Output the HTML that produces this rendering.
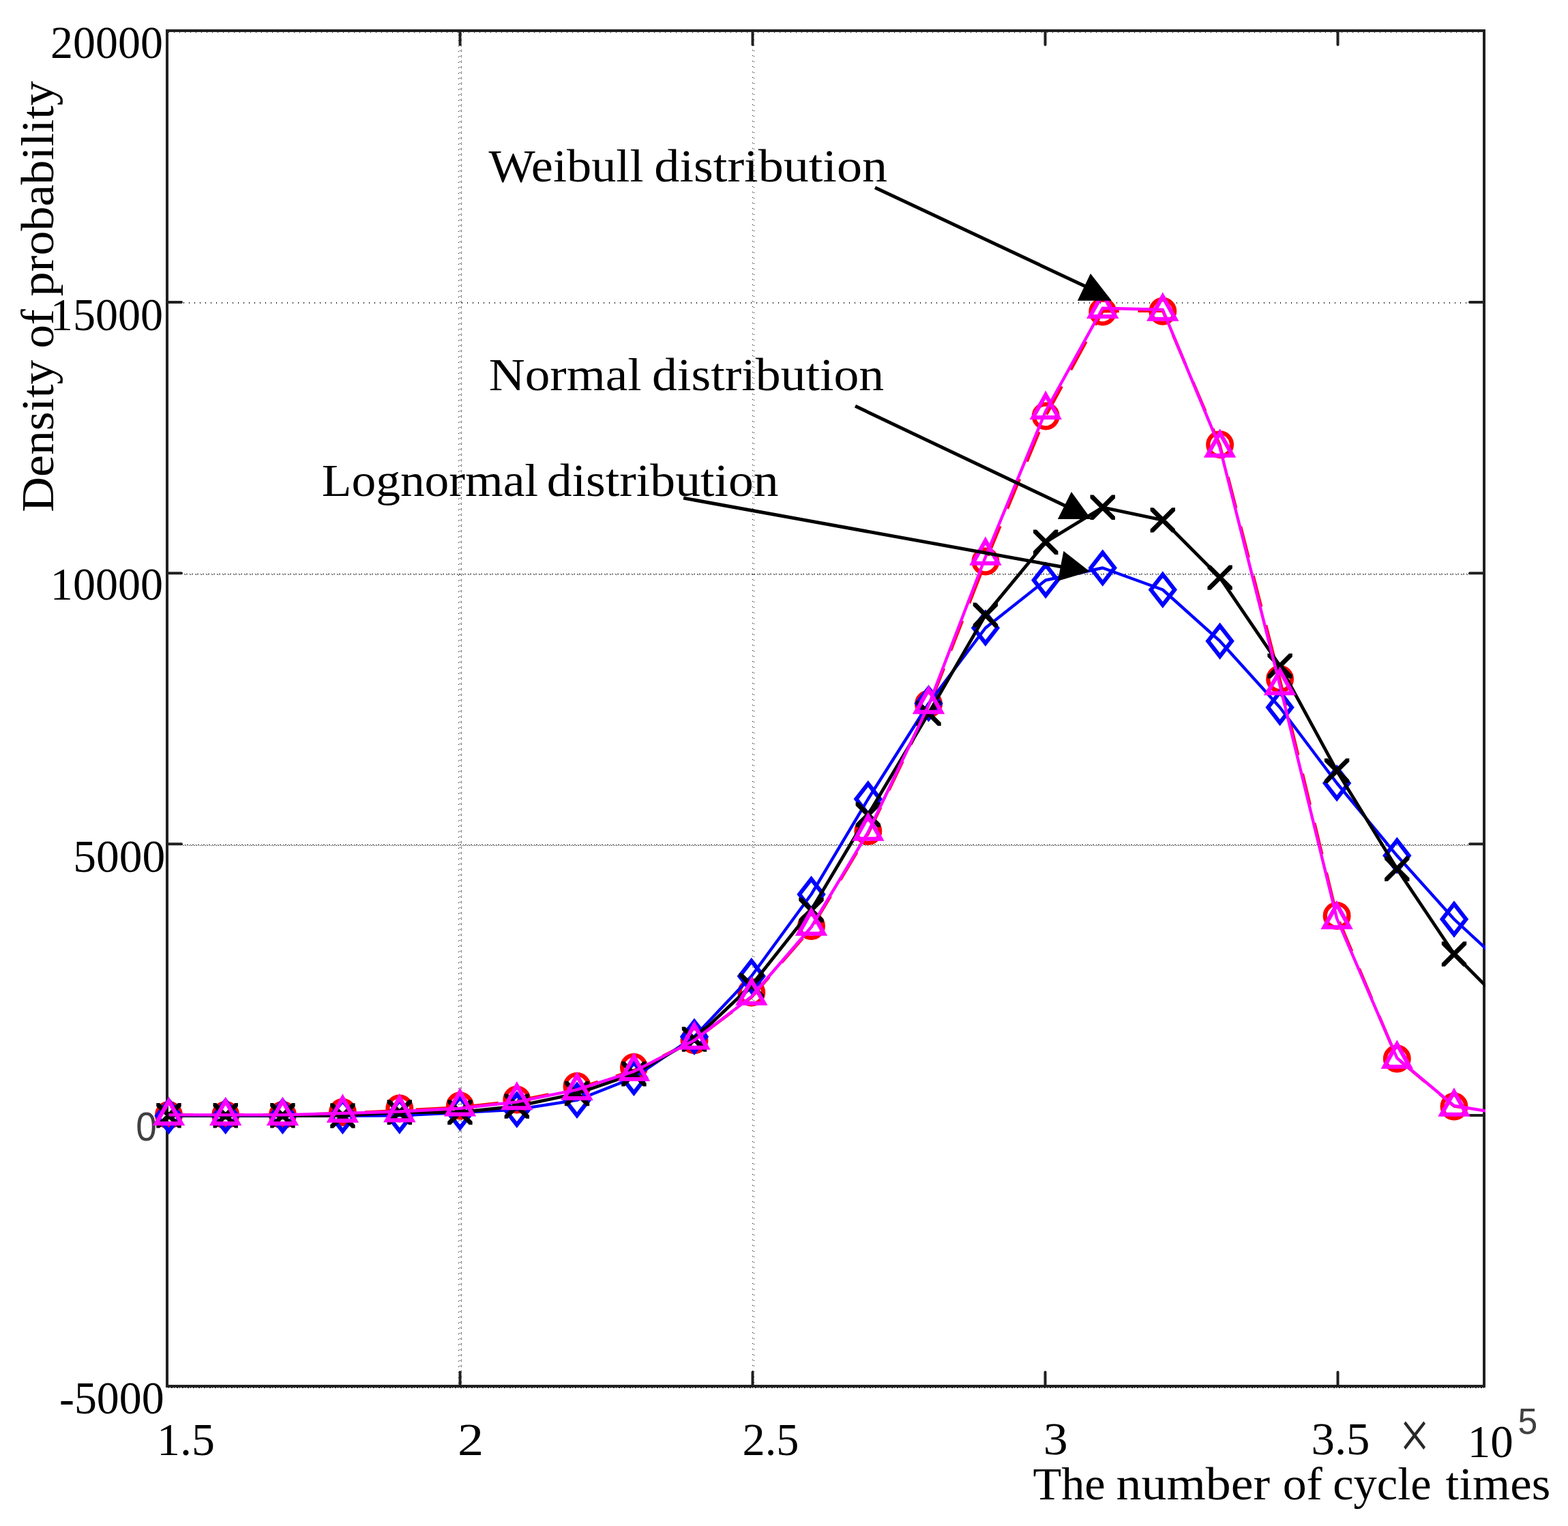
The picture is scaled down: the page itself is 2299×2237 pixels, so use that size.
<!DOCTYPE html>
<html lang="en"><head><meta charset="utf-8"><title>Density of probability</title>
<style>html,body{margin:0;padding:0;background:#fff}svg{display:block}text{font-family:"Liberation Serif",serif;fill:#000}.sans{font-family:"Liberation Sans",sans-serif;fill:#404040}</style></head><body>
<svg width="2299" height="2237" viewBox="0 0 2299 2237">
<rect x="0" y="0" width="2299" height="2237" fill="#fff"/>
<defs>
<pattern id="v2" x="672" y="817" width="8" height="8" patternUnits="userSpaceOnUse"><g fill="#111"><rect x="0" y="2" width="1" height="1"/><rect x="2" y="1" width="1" height="1"/><rect x="4" y="0" width="1" height="1"/><rect x="4" y="2" width="1" height="1"/></g></pattern>
<pattern id="v25" x="1103" y="1217" width="8" height="8" patternUnits="userSpaceOnUse"><g fill="#111"><rect x="0" y="0" width="1" height="1"/><rect x="2" y="1" width="1" height="1"/></g></pattern>
<pattern id="h15" x="269" y="443" width="8" height="8" patternUnits="userSpaceOnUse"><g fill="#111"><rect x="0" y="0" width="1" height="2"/></g></pattern>
<pattern id="h10" x="641" y="841" width="8" height="8" patternUnits="userSpaceOnUse"><g fill="#111"><rect x="0" y="0" width="2" height="1"/><rect x="5" y="0" width="1" height="1"/><rect x="6" y="1" width="1" height="1"/></g></pattern>
<pattern id="h5" x="1501" y="1238" width="8" height="8" patternUnits="userSpaceOnUse"><g fill="#111"><rect x="0" y="1" width="1" height="1"/><rect x="2" y="0" width="1" height="1"/><rect x="3" y="1" width="1" height="1"/><rect x="5" y="0" width="2" height="1"/></g></pattern>
<pattern id="hb" x="2131" y="2034" width="8" height="8" patternUnits="userSpaceOnUse"><g fill="#111"><rect x="0" y="0" width="2" height="1"/><rect x="4" y="0" width="1" height="1"/></g></pattern>
<pattern id="ht" x="255" y="47" width="8" height="8" patternUnits="userSpaceOnUse"><g fill="#111"><rect x="0" y="0" width="1" height="1"/></g></pattern>
<clipPath id="cp"><rect x="205" y="43" width="1973" height="1991"/></clipPath>
</defs>
<g>
<rect x="672" y="47" width="5" height="1983" fill="url(#v2)"/>
<rect x="1103" y="47" width="3" height="1983" fill="url(#v25)"/>
<rect x="267" y="443" width="1887" height="2" fill="url(#h15)"/>
<rect x="267" y="841" width="1887" height="2" fill="url(#h10)"/>
<rect x="267" y="1238" width="1887" height="2" fill="url(#h5)"/>
<rect x="247" y="2034" width="1929" height="1" fill="url(#hb)"/>
<rect x="247" y="47" width="1927" height="1" fill="url(#ht)"/>
</g>
<g stroke="#202020" stroke-width="4" fill="none">
<rect x="245" y="45" width="1931" height="1987"/>
<path d="M674.5 2032V2011.5M674.5 45V65.5M1103.5 2032V2011.5M1103.5 45V65.5M1532.5 2032V2011.5M1532.5 45V65.5M1961.5 2032V2011.5M1961.5 45V65.5M245 443H266M2176 443H2155M245 840.2H266M2176 840.2H2155M245 1237.3H266M2176 1237.3H2155M245 1635H266M2176 1635H2155" stroke-linecap="round" />
</g>
<text x="74.09" y="84.6" font-size="68" textLength="164.92" lengthAdjust="spacingAndGlyphs">20000</text>
<text x="73.87" y="483.5" font-size="68" textLength="165.14" lengthAdjust="spacingAndGlyphs">15000</text>
<text x="73.87" y="878.9" font-size="68" textLength="165.14" lengthAdjust="spacingAndGlyphs">10000</text>
<text x="107.13" y="1278" font-size="68" textLength="135.05" lengthAdjust="spacingAndGlyphs">5000</text>
<text class="sans" x="199.27" y="1672" font-size="60" textLength="30.61" lengthAdjust="spacingAndGlyphs">0</text>
<text x="86.99" y="2072" font-size="68" textLength="153.67" lengthAdjust="spacingAndGlyphs">-5000</text>
<text x="230.11" y="2132.5" font-size="68" textLength="84.89" lengthAdjust="spacingAndGlyphs">1.5</text>
<text x="670.93" y="2132.5" font-size="68" textLength="38.15" lengthAdjust="spacingAndGlyphs">2</text>
<text x="1088.58" y="2132.5" font-size="68" textLength="82.85" lengthAdjust="spacingAndGlyphs">2.5</text>
<text x="1529.83" y="2131.5" font-size="68" textLength="35.94" lengthAdjust="spacingAndGlyphs">3</text>
<text x="1922.46" y="2131.5" font-size="68" textLength="86.08" lengthAdjust="spacingAndGlyphs">3.5</text>
<text style="fill:#282828;" transform="translate(2051.99 2138.09) scale(1.1179 1.4429)" font-size="70">×</text>
<text x="2151.78" y="2136" font-size="68" textLength="67.08" lengthAdjust="spacingAndGlyphs">10</text>
<text class="sans" transform="translate(2225.41 2101.7) scale(0.9960 1.0167)" font-size="52">5</text>
<text font-size="67"><tspan x="1514.48" y="2198.2" textLength="106.13" lengthAdjust="spacingAndGlyphs">The</tspan> <tspan x="1636.6" y="2198.2" textLength="225.55" lengthAdjust="spacingAndGlyphs">number</tspan> <tspan x="1880.68" y="2198.2" textLength="58.13" lengthAdjust="spacingAndGlyphs">of</tspan> <tspan x="1954.24" y="2198.2" textLength="144.34" lengthAdjust="spacingAndGlyphs">cycle</tspan> <tspan x="2119.64" y="2198.2" textLength="153.65" lengthAdjust="spacingAndGlyphs">times</tspan></text>
<text font-size="67"><tspan x="716.4" y="265.7" textLength="227.18" lengthAdjust="spacingAndGlyphs">Weibull</tspan> <tspan x="959.39" y="265.7" textLength="341.69" lengthAdjust="spacingAndGlyphs">distribution</tspan></text>
<text font-size="67"><tspan x="716.81" y="571.8" textLength="223.71" lengthAdjust="spacingAndGlyphs">Normal</tspan> <tspan x="956.1" y="571.8" textLength="340.17" lengthAdjust="spacingAndGlyphs">distribution</tspan></text>
<text font-size="67"><tspan x="471.87" y="727.3" textLength="317.37" lengthAdjust="spacingAndGlyphs">Lognormal</tspan> <tspan x="801.8" y="727.3" textLength="339.87" lengthAdjust="spacingAndGlyphs">distribution</tspan></text>
<text transform="translate(77.7 0) rotate(-90)" font-size="67"><tspan x="-750.74" y="0" textLength="223.22" lengthAdjust="spacingAndGlyphs">Density</tspan> <tspan x="-510.58" y="0" textLength="57.39" lengthAdjust="spacingAndGlyphs">of</tspan> <tspan x="-434.47" y="0" textLength="315.68" lengthAdjust="spacingAndGlyphs">probability</tspan></text>
<g clip-path="url(#cp)" fill="none" stroke-linejoin="round">
<polyline points="247.5,1634.4 330.7,1634.4 414.4,1634.4 502.4,1632 585.8,1628 674.4,1623.3 757.8,1613.9 846,1595.8 929.4,1569.1 1018,1525 1101.8,1462 1189.5,1361 1272.8,1222 1361.5,1037 1444.9,823.5 1533.2,609.7 1616.7,456.3 1704.8,455.5 1788.6,652.7 1876.6,996.6 1960.1,1342.5 2048.3,1551.5 2132,1621.5 2219,1635" stroke="#f00" stroke-width="4.4" stroke-dasharray="47 27.7" stroke-dashoffset="11.22"/>
<g stroke="#f00" stroke-width="6.3">
<circle cx="247.5" cy="1634.5" r="17.3"/>
<circle cx="330.7" cy="1634.5" r="17.3"/>
<circle cx="414.4" cy="1634.5" r="17.3"/>
<circle cx="502.4" cy="1630.5" r="17.3"/>
<circle cx="585.8" cy="1625" r="17.3"/>
<circle cx="674.4" cy="1621" r="17.3"/>
<circle cx="757.8" cy="1612" r="17.3"/>
<circle cx="846" cy="1592.5" r="17.3"/>
<circle cx="929.4" cy="1564.5" r="17.3"/>
<circle cx="1018" cy="1524.7" r="17.3"/>
<circle cx="1101.8" cy="1455" r="17.3"/>
<circle cx="1189.5" cy="1357.5" r="17.3"/>
<circle cx="1272.8" cy="1218.5" r="17.3"/>
<circle cx="1361.5" cy="1032" r="17.3"/>
<circle cx="1444.9" cy="823" r="17.3"/>
<circle cx="1533.2" cy="610" r="17.3"/>
<circle cx="1616.7" cy="457" r="17.3"/>
<circle cx="1704.8" cy="456.3" r="17.3"/>
<circle cx="1788.6" cy="651.7" r="17.3"/>
<circle cx="1876.6" cy="995.5" r="17.3"/>
<circle cx="1960.1" cy="1342.5" r="17.3"/>
<circle cx="2048.3" cy="1552" r="17.3"/>
<circle cx="2132" cy="1622" r="17.3"/>
<circle cx="2219" cy="1635" r="17.3"/>
</g>
<polyline points="247.5,1635.7 330.7,1635.7 414.4,1635.7 502.4,1635.8 585.8,1635.4 674.4,1631 757.8,1626.5 846,1612.7 929.4,1579.7 1018,1519.7 1101.8,1431 1189.5,1311 1272.8,1171.3 1361.5,1031.3 1444.9,920.5 1533.2,850.5 1616.7,832.5 1704.8,864.5 1788.6,939.7 1876.6,1037 1960.1,1148 2048.3,1254.3 2132,1347.5 2219,1428" stroke="#00f" stroke-width="4.4"/>
<path d="M247.5 1613.3L264.9 1635.7L247.5 1658.1L230.1 1635.7ZM330.7 1613.3L348.1 1635.7L330.7 1658.1L313.3 1635.7ZM414.4 1613.3L431.8 1635.7L414.4 1658.1L397 1635.7ZM502.4 1613.4L519.8 1635.8L502.4 1658.2L485 1635.8ZM585.8 1613L603.2 1635.4L585.8 1657.8L568.4 1635.4ZM674.4 1608.6L691.8 1631L674.4 1653.4L657 1631ZM757.8 1604.1L775.2 1626.5L757.8 1648.9L740.4 1626.5ZM846 1590.3L863.4 1612.7L846 1635.1L828.6 1612.7ZM929.4 1557.3L946.8 1579.7L929.4 1602.1L912 1579.7ZM1018 1497.3L1035.4 1519.7L1018 1542.1L1000.6 1519.7ZM1101.8 1408.6L1119.2 1431L1101.8 1453.4L1084.4 1431ZM1189.5 1288.6L1206.9 1311L1189.5 1333.4L1172.1 1311ZM1272.8 1148.9L1290.2 1171.3L1272.8 1193.7L1255.4 1171.3ZM1361.5 1008.9L1378.9 1031.3L1361.5 1053.7L1344.1 1031.3ZM1444.9 898.1L1462.3 920.5L1444.9 942.9L1427.5 920.5ZM1533.2 828.1L1550.6 850.5L1533.2 872.9L1515.8 850.5ZM1616.7 810.1L1634.1 832.5L1616.7 854.9L1599.3 832.5ZM1704.8 842.1L1722.2 864.5L1704.8 886.9L1687.4 864.5ZM1788.6 917.3L1806 939.7L1788.6 962.1L1771.2 939.7ZM1876.6 1014.6L1894 1037L1876.6 1059.4L1859.2 1037ZM1960.1 1125.6L1977.5 1148L1960.1 1170.4L1942.7 1148ZM2048.3 1231.9L2065.7 1254.3L2048.3 1276.7L2030.9 1254.3ZM2132 1325.1L2149.4 1347.5L2132 1369.9L2114.6 1347.5ZM2219 1405.6L2236.4 1428L2219 1450.4L2201.6 1428Z" stroke="#00f" stroke-width="6" stroke-linejoin="miter"/>
<polyline points="247.5,1635.3 330.7,1635.3 414.4,1635.3 502.4,1635.5 585.8,1630.5 674.4,1630.5 757.8,1621.6 846,1603 929.4,1574.3 1018,1523.5 1101.8,1444.6 1189.5,1334 1272.8,1194.3 1361.5,1045.8 1444.9,901.6 1533.2,794.7 1616.7,743.8 1704.8,762.4 1788.6,846.6 1876.6,976.2 1960.1,1129.9 2048.3,1273.6 2132,1398.5 2219,1486.3" stroke="#000" stroke-width="4.8"/>
<path d="M229.3 1617.1L234.1 1617.1L265.7 1648.7L265.7 1653.5L260.9 1653.5L229.3 1621.9ZM229.3 1648.7L260.9 1617.1L265.7 1617.1L265.7 1621.9L234.1 1653.5L229.3 1653.5ZM312.5 1617.1L317.3 1617.1L348.9 1648.7L348.9 1653.5L344.1 1653.5L312.5 1621.9ZM312.5 1648.7L344.1 1617.1L348.9 1617.1L348.9 1621.9L317.3 1653.5L312.5 1653.5ZM396.2 1617.1L401 1617.1L432.6 1648.7L432.6 1653.5L427.8 1653.5L396.2 1621.9ZM396.2 1648.7L427.8 1617.1L432.6 1617.1L432.6 1621.9L401 1653.5L396.2 1653.5ZM484.2 1617.3L489 1617.3L520.6 1648.9L520.6 1653.7L515.8 1653.7L484.2 1622.1ZM484.2 1648.9L515.8 1617.3L520.6 1617.3L520.6 1622.1L489 1653.7L484.2 1653.7ZM567.6 1612.3L572.4 1612.3L604 1643.9L604 1648.7L599.2 1648.7L567.6 1617.1ZM567.6 1643.9L599.2 1612.3L604 1612.3L604 1617.1L572.4 1648.7L567.6 1648.7ZM656.2 1612.3L661 1612.3L692.6 1643.9L692.6 1648.7L687.8 1648.7L656.2 1617.1ZM656.2 1643.9L687.8 1612.3L692.6 1612.3L692.6 1617.1L661 1648.7L656.2 1648.7ZM739.6 1603.4L744.4 1603.4L776 1635L776 1639.8L771.2 1639.8L739.6 1608.2ZM739.6 1635L771.2 1603.4L776 1603.4L776 1608.2L744.4 1639.8L739.6 1639.8ZM827.8 1584.8L832.6 1584.8L864.2 1616.4L864.2 1621.2L859.4 1621.2L827.8 1589.6ZM827.8 1616.4L859.4 1584.8L864.2 1584.8L864.2 1589.6L832.6 1621.2L827.8 1621.2ZM911.2 1556.1L916 1556.1L947.6 1587.7L947.6 1592.5L942.8 1592.5L911.2 1560.9ZM911.2 1587.7L942.8 1556.1L947.6 1556.1L947.6 1560.9L916 1592.5L911.2 1592.5ZM999.8 1505.3L1004.6 1505.3L1036.2 1536.9L1036.2 1541.7L1031.4 1541.7L999.8 1510.1ZM999.8 1536.9L1031.4 1505.3L1036.2 1505.3L1036.2 1510.1L1004.6 1541.7L999.8 1541.7ZM1083.6 1426.4L1088.4 1426.4L1120 1458L1120 1462.8L1115.2 1462.8L1083.6 1431.2ZM1083.6 1458L1115.2 1426.4L1120 1426.4L1120 1431.2L1088.4 1462.8L1083.6 1462.8ZM1171.3 1315.8L1176.1 1315.8L1207.7 1347.4L1207.7 1352.2L1202.9 1352.2L1171.3 1320.6ZM1171.3 1347.4L1202.9 1315.8L1207.7 1315.8L1207.7 1320.6L1176.1 1352.2L1171.3 1352.2ZM1254.6 1176.1L1259.4 1176.1L1291 1207.7L1291 1212.5L1286.2 1212.5L1254.6 1180.9ZM1254.6 1207.7L1286.2 1176.1L1291 1176.1L1291 1180.9L1259.4 1212.5L1254.6 1212.5ZM1343.3 1027.6L1348.1 1027.6L1379.7 1059.2L1379.7 1064L1374.9 1064L1343.3 1032.4ZM1343.3 1059.2L1374.9 1027.6L1379.7 1027.6L1379.7 1032.4L1348.1 1064L1343.3 1064ZM1426.7 883.4L1431.5 883.4L1463.1 915L1463.1 919.8L1458.3 919.8L1426.7 888.2ZM1426.7 915L1458.3 883.4L1463.1 883.4L1463.1 888.2L1431.5 919.8L1426.7 919.8ZM1515 776.5L1519.8 776.5L1551.4 808.1L1551.4 812.9L1546.6 812.9L1515 781.3ZM1515 808.1L1546.6 776.5L1551.4 776.5L1551.4 781.3L1519.8 812.9L1515 812.9ZM1598.5 725.6L1603.3 725.6L1634.9 757.2L1634.9 762L1630.1 762L1598.5 730.4ZM1598.5 757.2L1630.1 725.6L1634.9 725.6L1634.9 730.4L1603.3 762L1598.5 762ZM1686.6 744.2L1691.4 744.2L1723 775.8L1723 780.6L1718.2 780.6L1686.6 749ZM1686.6 775.8L1718.2 744.2L1723 744.2L1723 749L1691.4 780.6L1686.6 780.6ZM1770.4 828.4L1775.2 828.4L1806.8 860L1806.8 864.8L1802 864.8L1770.4 833.2ZM1770.4 860L1802 828.4L1806.8 828.4L1806.8 833.2L1775.2 864.8L1770.4 864.8ZM1858.4 958L1863.2 958L1894.8 989.6L1894.8 994.4L1890 994.4L1858.4 962.8ZM1858.4 989.6L1890 958L1894.8 958L1894.8 962.8L1863.2 994.4L1858.4 994.4ZM1941.9 1111.7L1946.7 1111.7L1978.3 1143.3L1978.3 1148.1L1973.5 1148.1L1941.9 1116.5ZM1941.9 1143.3L1973.5 1111.7L1978.3 1111.7L1978.3 1116.5L1946.7 1148.1L1941.9 1148.1ZM2030.1 1255.4L2034.9 1255.4L2066.5 1287L2066.5 1291.8L2061.7 1291.8L2030.1 1260.2ZM2030.1 1287L2061.7 1255.4L2066.5 1255.4L2066.5 1260.2L2034.9 1291.8L2030.1 1291.8ZM2113.8 1380.3L2118.6 1380.3L2150.2 1411.9L2150.2 1416.7L2145.4 1416.7L2113.8 1385.1ZM2113.8 1411.9L2145.4 1380.3L2150.2 1380.3L2150.2 1385.1L2118.6 1416.7L2113.8 1416.7ZM2200.8 1468.1L2205.6 1468.1L2237.2 1499.7L2237.2 1504.5L2232.4 1504.5L2200.8 1472.9ZM2200.8 1499.7L2232.4 1468.1L2237.2 1468.1L2237.2 1472.9L2205.6 1504.5L2200.8 1504.5Z" fill="#000" stroke="none"/>
<polyline points="247.5,1634.4 330.7,1634.4 414.4,1634.4 502.4,1632 585.8,1629.5 674.4,1624.8 757.8,1615.4 846,1597.3 929.4,1570.6 1018,1525 1101.8,1461 1189.5,1359 1272.8,1220 1361.5,1034 1444.9,816.5 1533.2,602.7 1616.7,451.8 1704.8,454 1788.6,656 1876.6,1004.6 1960.1,1346.5 2048.3,1551 2132,1621 2219,1635" stroke="#f0f" stroke-width="4.4"/>
<path d="M247.5 1613.9L266.1 1647.1L228.9 1647.1ZM330.7 1613.9L349.3 1647.1L312.1 1647.1ZM414.4 1613.9L433 1647.1L395.8 1647.1ZM502.4 1609.5L521 1642.7L483.8 1642.7ZM585.8 1609L604.4 1642.2L567.2 1642.2ZM674.4 1600.3L693 1633.5L655.8 1633.5ZM757.8 1591.1L776.4 1624.3L739.2 1624.3ZM846 1576.8L864.6 1610L827.4 1610ZM929.4 1548.8L948 1582L910.8 1582ZM1018 1502.5L1036.6 1535.7L999.4 1535.7ZM1101.8 1437.5L1120.4 1470.7L1083.2 1470.7ZM1189.5 1335.5L1208.1 1368.7L1170.9 1368.7ZM1272.8 1196.5L1291.4 1229.7L1254.2 1229.7ZM1361.5 1010.5L1380.1 1043.7L1342.9 1043.7ZM1444.9 792.5L1463.5 825.7L1426.3 825.7ZM1533.2 578.7L1551.8 611.9L1514.6 611.9ZM1616.7 430.7L1635.3 463.9L1598.1 463.9ZM1704.8 434.5L1723.4 467.7L1686.2 467.7ZM1788.6 634.5L1807.2 667.7L1770 667.7ZM1876.6 983.1L1895.2 1016.3L1858 1016.3ZM1960.1 1326L1978.7 1359.2L1941.5 1359.2ZM2048.3 1530.5L2066.9 1563.7L2029.7 1563.7ZM2132 1600.5L2150.6 1633.7L2113.4 1633.7ZM2219 1614.5L2237.6 1647.7L2200.4 1647.7Z" stroke="#f0f" stroke-width="6" stroke-linejoin="miter"/>
</g>
<line x1="1283" y1="275.1" x2="1594" y2="421" stroke="#000" stroke-width="5"/>
<polygon points="1598.9,400.9 1579.9,440.7 1629.9,440.7" fill="#000"/>
<line x1="1254" y1="595.3" x2="1565" y2="743" stroke="#000" stroke-width="5"/>
<polygon points="1570.9,720.9 1550.9,760.9 1599.9,760.9" fill="#000"/>
<line x1="1002.1" y1="730.1" x2="1560" y2="831.5" stroke="#000" stroke-width="5"/>
<polygon points="1559.4,807.8 1550.9,851.7 1597.8,837.7" fill="#000"/>
</svg></body></html>
